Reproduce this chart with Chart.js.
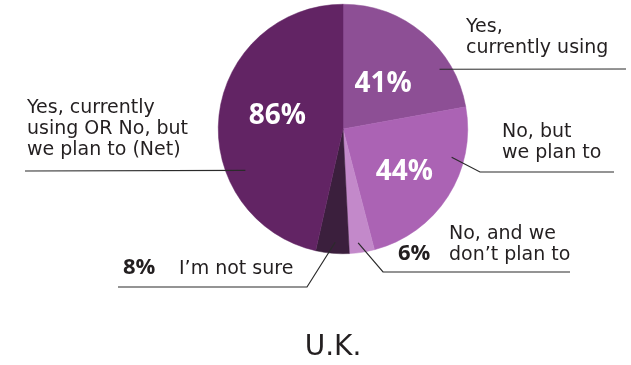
<!DOCTYPE html>
<html lang="en">
<head>
<meta charset="utf-8" />
<title>U.K.</title>
<script src="https://cdn.jsdelivr.net/npm/chart.js"></script>
<style>
  body { margin: 0; background: #fff; }
</style>
</head>
<body>
<canvas id="chart" width="631" height="365"></canvas>
<script>
// data
var categories = [
    ["Yes,", "currently using"],
    ["No, but", "we plan to"],
    ["No, and we", "don\u2019t plan to"],
    ["I\u2019m not sure"],
    ["Yes, currently", "using OR No, but", "we plan to (Net)"]
];
var values = [41, 44, 6, 8, 86];
var valueLabels = ["41%", "44%", "6%", "8%", "86%"];
var colors = ["#8d4f95", "#ab63b4", "#c389ca", "#3b1f3d", "#622464"];
var title = "U.K.";

// where each callout goes (layout only)
var callouts = [
    { inside: [0.5, 0.5], lead: [0.73, 0.91], path: [[626, 69]], text: [466, 32], pct: null },
    { inside: [0.51, 0.59], lead: [0.29, 0.9], path: [[480, 172], [614, 172]], text: [502, 137], pct: null },
    { inside: null, lead: [0.6, 0.92], path: [[383, 272], [570, 272]], text: [449, 239], pct: [398, 260] },
    { inside: null, lead: [0.44, 0.91], path: [[307, 287], [118, 287]], text: [179, 274], pct: [123, 274] },
    { inside: [0.54, 0.54], lead: [0.325, 0.85], path: [[25, 171]], text: [27, 113], pct: null }
];

var TEXT_FONT = "'DejaVu Sans', sans-serif";
var NUM_FONT = "'Open Sans', 'DejaVu Sans', sans-serif";

function polar(el, frac, rad) {
    var a = el.startAngle + frac * (el.endAngle - el.startAngle);
    var r = el.outerRadius * rad;
    return [el.x + r * Math.cos(a), el.y + r * Math.sin(a)];
}

var calloutPlugin = {
    id: 'callouts',
    afterDraw: function (chart) {
        var ctx = chart.ctx;
        var arcs = chart.getDatasetMeta(0).data;
        ctx.save();
        arcs.forEach(function (el, i) {
            var c = callouts[i];
            // leader line
            var p = polar(el, c.lead[0], c.lead[1]);
            ctx.beginPath();
            ctx.moveTo(p[0], p[1]);
            c.path.forEach(function (q) { ctx.lineTo(q[0], q[1]); });
            ctx.strokeStyle = '#2b2b2b';
            ctx.lineWidth = 1.2;
            ctx.stroke();

            // category text
            ctx.fillStyle = '#231f20';
            ctx.font = '19px ' + TEXT_FONT;
            ctx.textAlign = 'left';
            ctx.textBaseline = 'alphabetic';
            categories[i].forEach(function (line, k) {
                ctx.fillText(line, c.text[0], c.text[1] + k * 21);
            });

            // percentage
            if (c.inside) {
                var m = polar(el, c.inside[0], c.inside[1]);
                ctx.fillStyle = '#ffffff';
                ctx.font = 'bold 28px ' + NUM_FONT;
                ctx.textAlign = 'center';
                ctx.fillText(valueLabels[i], m[0], m[1] + 10.5);
            } else {
                ctx.fillStyle = '#231f20';
                ctx.font = 'bold 22px ' + NUM_FONT;
                ctx.textAlign = 'left';
                ctx.fillText(valueLabels[i], c.pct[0], c.pct[1]);
            }
        });

        ctx.fillStyle = '#231f20';
        ctx.font = '28px ' + TEXT_FONT;
        ctx.textAlign = 'center';
        ctx.fillText(title, 333, 355);
        ctx.restore();
    }
};

new Chart(document.getElementById('chart'), {
    type: 'pie',
    data: {
        labels: categories.map(function (l) { return l.join(' '); }),
        datasets: [{
            data: values,
            backgroundColor: colors,
            borderColor: colors,
            borderWidth: 0.5
        }]
    },
    options: {
        responsive: false,
        animation: false,
        layout: { padding: { left: 218, right: 163, top: 4, bottom: 111 } },
        plugins: {
            legend: { display: false },
            tooltip: { enabled: false }
        }
    },
    plugins: [calloutPlugin]
});
</script>
</body>
</html>
